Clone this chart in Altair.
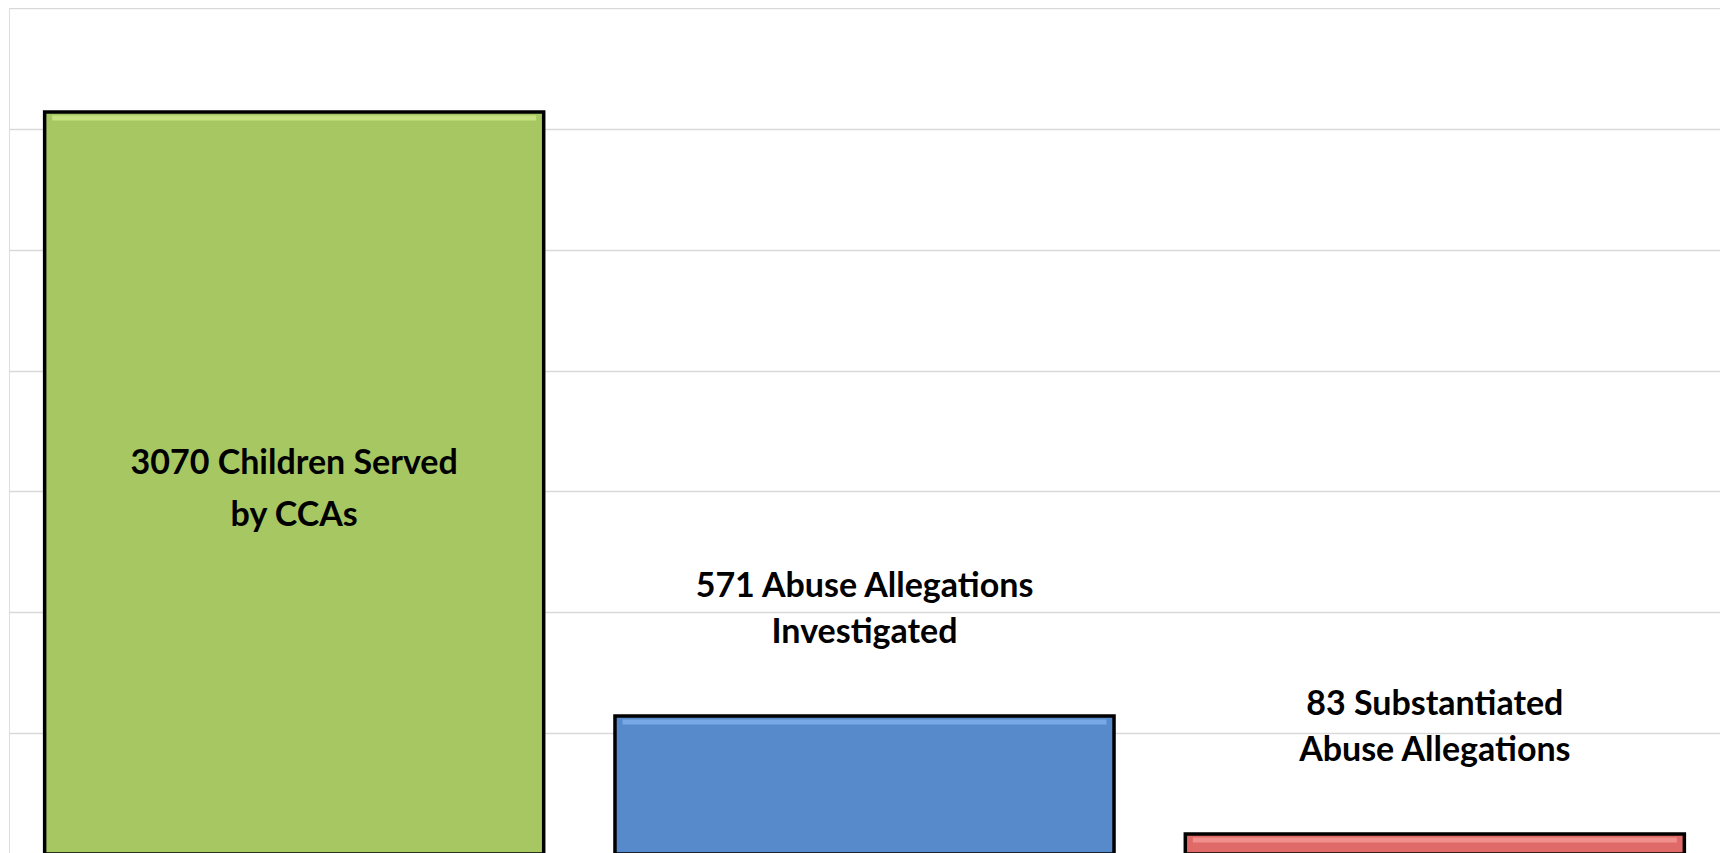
import altair as alt
import pandas as pd

categories = ["Children Served", "Allegations Investigated", "Substantiated Allegations"]
values = [3070, 571, 83]
labels = [
    "3070 Children Served\nby CCAs",
    "571 Abuse Allegations\nInvestigated",
    "83 Substantiated\nAbuse Allegations",
]
grid_values = [0, 500, 1000, 1500, 2000, 2500, 3000, 3500]
colors = ["#A7C763", "#578ACA", "#E06A67"]
highlights = ["#D4F08F", "#86B7F2", "#F7A09C"]
inside = [True, False, False]

df = pd.DataFrame({
    "cat": categories,
    "value": values,
    "label": labels,
    "inside": inside,
})

x_enc = alt.X("cat:N", sort=categories, axis=None,
              scale=alt.Scale(paddingInner=0.125, paddingOuter=0.0625))
y_scale = alt.Scale(domain=[0, 3500], nice=False)
y_axis = alt.Axis(values=grid_values,
                  labels=False, ticks=False, domain=False, title=None,
                  grid=True, gridColor="#D9D9D9", gridWidth=1.5)
color_enc = alt.Color("cat:N", sort=categories,
                      scale=alt.Scale(domain=categories, range=colors), legend=None)

base = alt.Chart(df)

bars = base.mark_bar(stroke="black", strokeWidth=3.5, cornerRadius=0).encode(
    x=x_enc,
    y=alt.Y("value:Q", scale=y_scale, axis=y_axis),
    color=color_enc,
)

highlight = base.mark_tick(thickness=5, size=484, yOffset=6, opacity=0.7).encode(
    x=x_enc,
    y=alt.Y("value:Q", scale=y_scale, axis=y_axis),
    color=alt.Color("cat:N", sort=categories,
                    scale=alt.Scale(domain=categories, range=highlights), legend=None),
)

label_font = dict(font="Lato", fontWeight="bold", fontSize=34,
                  color="black", align="center", lineBreak="\n")

text_in = base.transform_filter("datum.inside").transform_calculate(
    mid="datum.value / 2"
).mark_text(baseline="middle", dy=-19, lineHeight=52, **label_font).encode(
    x=x_enc,
    y=alt.Y("mid:Q", scale=y_scale, axis=y_axis),
    text="label:N",
)

text_out = base.transform_filter("!datum.inside").mark_text(
    baseline="bottom", dy=-112, lineHeight=46, **label_font
).encode(
    x=x_enc,
    y=alt.Y("value:Q", scale=y_scale, axis=y_axis),
    text="label:N",
)

chart = alt.layer(bars, highlight, text_in, text_out).resolve_scale(
    color="independent"
).properties(
    width=1711, height=846,
    padding={"left": 1, "top": 0, "right": 0, "bottom": 0},
).configure_view(strokeWidth=0, stroke="transparent").configure_axis(
    domain=False, ticks=False, labels=False
).configure(background="white")

chart.save("out.html", embed_options={"renderer": "svg", "actions": False})
